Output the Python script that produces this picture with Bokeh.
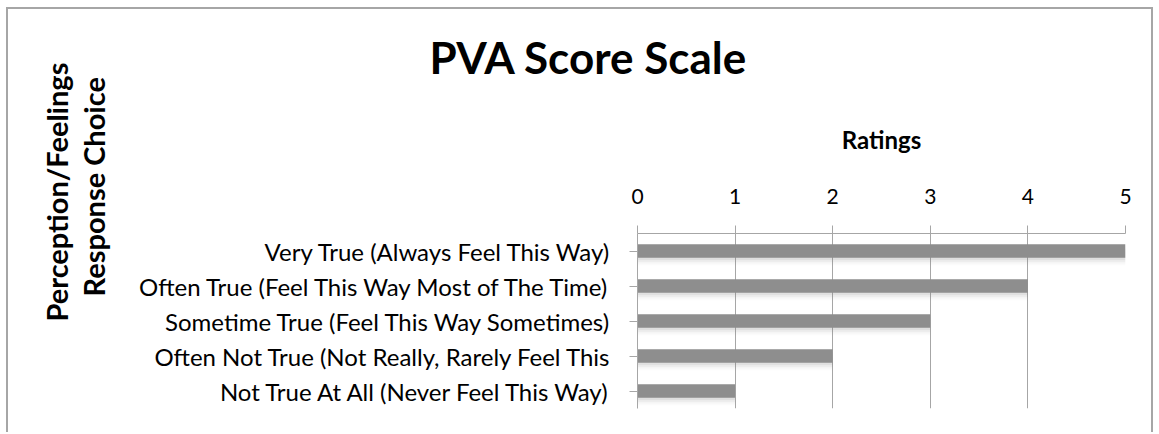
from bokeh.plotting import figure
from bokeh.models import Range1d, FactorRange, Title, FixedTicker
from bokeh.transform import dodge
from bokeh.embed import file_html
from bokeh.resources import INLINE

# ---- data ----
categories = [
    "Very True (Always Feel This Way)",
    "Often True (Feel This Way Most of The Time)",
    "Sometime True (Feel This Way Sometimes)",
    "Often Not True (Not Really, Rarely Feel This",
    "Not True At All (Never Feel This Way)",
]
ratings = [5, 4, 3, 2, 1]
x_ticks = [0, 1, 2, 3, 4, 5]
title_text = "PVA Score Scale"
x_title = "Ratings"
y_title_lines = ["Perception/Feelings", "Response Choice"]

FONT = "Lato"
OX, OY = 8, 9          # offset of the canvas inside the page
W, H = 1147, 425

p = figure(
    width=W, height=H,
    x_range=Range1d(0, 5),
    y_range=FactorRange(factors=list(reversed(categories)), range_padding=0),
    x_axis_location="above",
    output_backend="svg", toolbar_location=None,
    min_border_left=637 - OX, min_border_right=W - (1125 - OX),
    min_border_top=233 - OY, min_border_bottom=H - (408 - OY),
)
p.styles = {"margin-left": "6px", "margin-top": "7px",
            "border-left": "2px solid #a6a6a6", "border-top": "2px solid #a6a6a6",
            "border-right": "2px solid #a6a6a6"}
p.outline_line_color = None
p.background_fill_color = "white"
p.border_fill_color = "white"

src = dict(cat=categories, val=ratings)

# soft shadow under each bar
for off, a in [(-0.07, 0.10), (-0.12, 0.08), (-0.17, 0.05), (-0.22, 0.03)]:
    p.hbar(y=dodge("cat", off, range=p.y_range), right="val", left=0, height=0.38,
           source=src, fill_color="#808080", fill_alpha=a, line_color=None)

p.hbar(y="cat", right="val", left=0, height=0.38, source=src,
       fill_color="#8e8e8e", line_color=None)

# x axis (top)
xa = p.xaxis[0]
xa.ticker = FixedTicker(ticks=x_ticks)
xa.axis_line_color = "#a6a6a6"
xa.major_tick_line_color = "#a6a6a6"
xa.major_tick_out = 8
xa.major_tick_in = 0
xa.minor_tick_line_color = None
xa.major_label_text_font = FONT
xa.major_label_text_font_size = "21px"
xa.major_label_text_color = "black"
xa.major_label_standoff = 22
xa.axis_label = x_title
xa.axis_label_text_font = FONT
xa.axis_label_text_font_style = "bold"
xa.axis_label_text_font_size = "24px"
xa.axis_label_text_color = "black"
xa.axis_label_standoff = 32

# y axis (left)
ya = p.yaxis[0]
ya.axis_line_color = "#a6a6a6"
ya.major_tick_line_color = "#a6a6a6"
ya.major_tick_out = 8
ya.major_tick_in = 0
ya.major_label_text_font = FONT
ya.major_label_text_font_size = "24px"
ya.major_label_text_color = "black"
ya.major_label_standoff = 18

p.xgrid.grid_line_color = "#a6a6a6"
p.xgrid.ticker = FixedTicker(ticks=x_ticks)
p.ygrid.grid_line_color = None

# main title (an invisible second line lifts it within its panel)
p.title.text = title_text + "\n\u00a0"
p.title.align = "left"
p.title.offset = 429 - 637
p.title.standoff = 0
p.title.text_font = FONT
p.title.text_font_style = "bold"
p.title.text_font_size = "44px"
p.title.text_line_height = 0.75
p.title.text_color = "black"

# spacer between the category labels and the vertical axis title
p.add_layout(Title(text="\u00a0", align="left", standoff=23,
                   text_font=FONT, text_font_size="1px"), "left")
# two-line vertical axis title
p.add_layout(Title(text=y_title_lines[1], align="left", offset=112, standoff=0,
                   text_font=FONT, text_font_style="bold", text_font_size="29px",
                   text_color="black"), "left")
p.add_layout(Title(text=y_title_lines[0], align="left", offset=87, standoff=0,
                   text_font=FONT, text_font_style="bold", text_font_size="29px",
                   text_color="black"), "left")

open("out.html", "w").write(file_html(p, INLINE))
